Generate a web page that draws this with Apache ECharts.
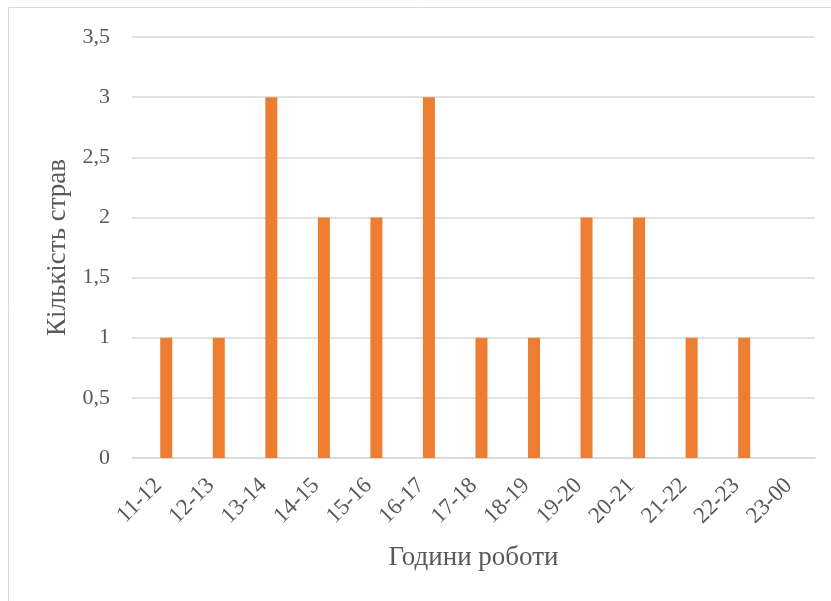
<!DOCTYPE html>
<html>
<head>
<meta charset="utf-8">
<script src="https://cdn.jsdelivr.net/npm/echarts@6/dist/echarts.min.js"></script>
<style>
  html, body { margin: 0; padding: 0; background: #fff; }
  #chart { width: 831px; height: 601px; }
</style>
</head>
<body>
<div id="chart"></div>
<script>
// Working hours (time slots) and number of dishes per slot
const hours = ['11-12', '12-13', '13-14', '14-15', '15-16', '16-17', '17-18',
               '18-19', '19-20', '20-21', '21-22', '22-23', '23-00'];
const dishes = [1, 1, 3, 2, 2, 3, 1, 1, 2, 2, 1, 1, 0];
// Empty companion series in the cluster (no values)
const emptySeries = [null, null, null, null, null, null, null, null, null, null, null, null, null];

const xTitle = 'Години роботи';
const yTitle = 'Кількість страв';

const font = '"Liberation Serif", "Times New Roman", serif';
const textColor = '#595959';

const chart = echarts.init(document.getElementById('chart'), null, { renderer: 'canvas' });
chart.setOption({
  animation: false,
  backgroundColor: '#fff',
  graphic: [{
    type: 'rect',
    shape: { x: 8.5, y: 7.5, width: 900, height: 700 },
    style: { fill: 'none', stroke: '#d9d9d9', lineWidth: 1 },
    silent: true
  }],
  grid: { left: 132, right: 16, top: 37, bottom: 143, containLabel: false },
  xAxis: {
    type: 'category',
    data: hours,
    boundaryGap: true,
    axisLine: { lineStyle: { color: '#d9d9d9', width: 1.5 } },
    axisTick: { show: false },
    axisLabel: {
      rotate: 45, interval: 0, margin: 24,
      color: textColor, fontFamily: font, fontSize: 23
    },
    name: xTitle,
    nameLocation: 'middle',
    nameGap: 86,
    nameTextStyle: { color: textColor, fontFamily: font, fontSize: 27 }
  },
  yAxis: {
    type: 'value',
    min: 0, max: 3.5, interval: 0.5,
    axisLine: { show: false },
    axisTick: { show: false },
    splitLine: { lineStyle: { color: '#d9d9d9', width: 1.5 } },
    axisLabel: {
      margin: 22, color: textColor, fontFamily: font, fontSize: 22,
      formatter: v => String(v).replace('.', ',')
    },
    name: yTitle,
    nameLocation: 'middle',
    nameGap: 58,
    nameRotate: 90,
    nameTextStyle: { color: textColor, fontFamily: font, fontSize: 27 }
  },
  series: [
    { type: 'bar', name: 'empty', data: emptySeries, barWidth: 12, barGap: '33%', silent: true },
    { type: 'bar', name: yTitle, data: dishes, barWidth: 12, barGap: '33%',
      itemStyle: { color: '#ED7D31' } }
  ]
});
</script>
</body>
</html>
